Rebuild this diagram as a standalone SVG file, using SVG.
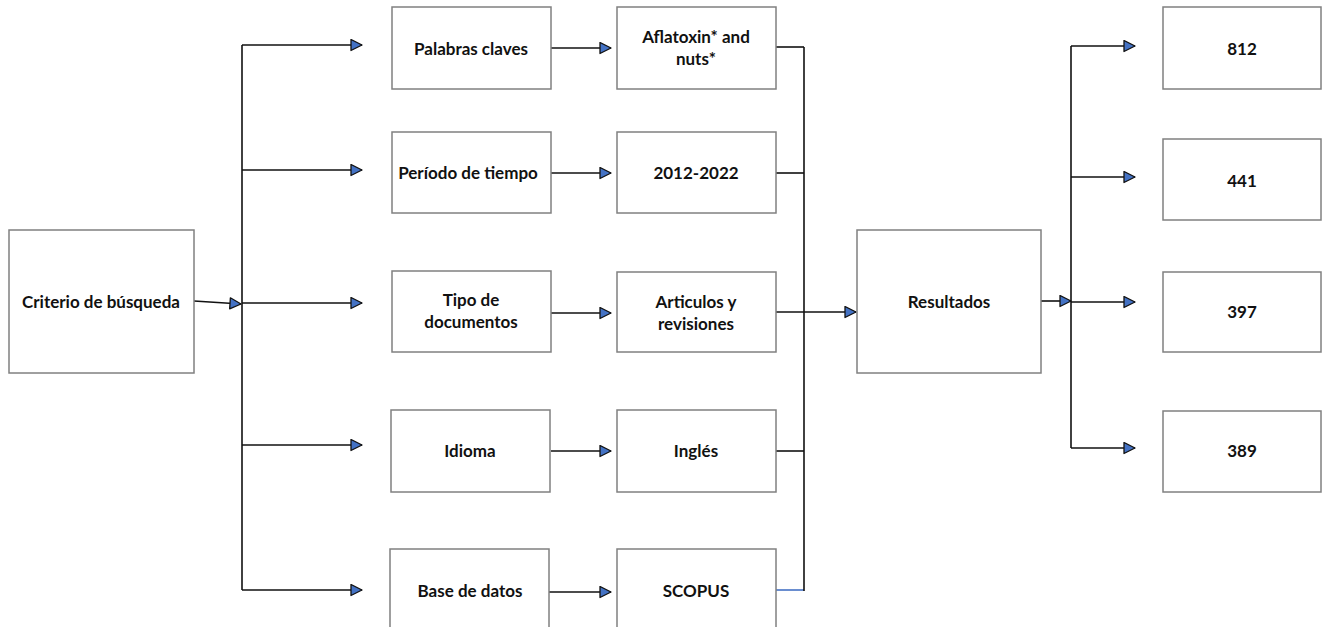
<svg xmlns="http://www.w3.org/2000/svg" width="1325" height="627" viewBox="0 0 1325 627">
<style>
.box{fill:#fff;stroke:#808080;stroke-width:1.5}
.t{font-family:Lato,"Liberation Sans",sans-serif;font-weight:bold;font-size:17px;fill:#111;text-anchor:middle}
.c{fill:none;stroke:#111;stroke-width:1.6}
.b{fill:none;stroke:#4472c4;stroke-width:1.6}
</style>
<defs>
<marker id="ah" markerUnits="userSpaceOnUse" markerWidth="16" markerHeight="14" refX="12" refY="6.5" orient="auto" viewBox="0 0 16 14">
<path d="M1,1 L12,6.5 L1,12 Z" fill="#4472c4" stroke="#111" stroke-width="1.3" stroke-linejoin="round"/>
</marker>
</defs>
<rect width="1325" height="627" fill="#fff"/>
<g id="connectors">
<line class="c" x1="194" y1="301" x2="241" y2="304" marker-end="url(#ah)"/>
<line class="c" x1="242" y1="45" x2="242" y2="590"/>
<line class="c" x1="242" y1="45" x2="362" y2="45" marker-end="url(#ah)"/>
<line class="c" x1="242" y1="170" x2="362" y2="170" marker-end="url(#ah)"/>
<line class="c" x1="242" y1="303" x2="362" y2="303" marker-end="url(#ah)"/>
<line class="c" x1="242" y1="445" x2="362" y2="445" marker-end="url(#ah)"/>
<line class="c" x1="242" y1="590" x2="362" y2="590" marker-end="url(#ah)"/>
<line class="c" x1="551" y1="48" x2="611" y2="48" marker-end="url(#ah)"/>
<line class="c" x1="551" y1="173" x2="611" y2="173" marker-end="url(#ah)"/>
<line class="c" x1="551" y1="313" x2="611" y2="313" marker-end="url(#ah)"/>
<line class="c" x1="551" y1="451" x2="611" y2="451" marker-end="url(#ah)"/>
<line class="c" x1="549" y1="592" x2="611" y2="592" marker-end="url(#ah)"/>
<line class="c" x1="776" y1="47" x2="804" y2="47"/>
<line class="c" x1="776" y1="173" x2="804" y2="173"/>
<line class="c" x1="776" y1="451" x2="804" y2="451"/>
<line class="b" x1="776" y1="590" x2="804" y2="590"/>
<line class="c" x1="804" y1="47" x2="804" y2="591"/>
<line class="c" x1="776" y1="312" x2="856" y2="312" marker-end="url(#ah)"/>
<line class="c" x1="1041" y1="301" x2="1071" y2="301" marker-end="url(#ah)"/>
<line class="c" x1="1071" y1="46" x2="1071" y2="448"/>
<line class="c" x1="1071" y1="46" x2="1135" y2="46" marker-end="url(#ah)"/>
<line class="c" x1="1071" y1="177" x2="1135" y2="177" marker-end="url(#ah)"/>
<line class="c" x1="1071" y1="302" x2="1135" y2="302" marker-end="url(#ah)"/>
<line class="c" x1="1071" y1="448" x2="1135" y2="448" marker-end="url(#ah)"/>
</g>
<g id="criterio"><rect class="box" x="9" y="230" width="185" height="143"/><text class="t" x="101" y="308">Criterio de búsqueda</text></g>
<g id="palabras"><rect class="box" x="392" y="7" width="159" height="82"/><text class="t" x="471" y="55">Palabras claves</text></g>
<g id="periodo"><rect class="box" x="392" y="132" width="159" height="81"/><text class="t" x="468" y="179">Período de tiempo</text></g>
<g id="tipo"><rect class="box" x="392" y="271" width="159" height="81"/><text class="t" x="471" y="306">Tipo de</text><text class="t" x="471" y="328">documentos</text></g>
<g id="idioma"><rect class="box" x="391" y="410" width="159" height="82"/><text class="t" x="470" y="457">Idioma</text></g>
<g id="base"><rect class="box" x="390" y="549" width="159" height="90"/><text class="t" x="470" y="597">Base de datos</text></g>
<g id="aflatoxin"><rect class="box" x="617" y="7" width="159" height="82"/><text class="t" x="696" y="43">Aflatoxin* and</text><text class="t" x="696" y="65">nuts*</text></g>
<g id="anios"><rect class="box" x="617" y="132" width="159" height="81"/><text class="t" x="696" y="179">2012-2022</text></g>
<g id="articulos"><rect class="box" x="617" y="272" width="159" height="80"/><text class="t" x="696" y="308">Articulos y</text><text class="t" x="696" y="330">revisiones</text></g>
<g id="ingles"><rect class="box" x="617" y="410" width="159" height="82"/><text class="t" x="696" y="457">Inglés</text></g>
<g id="scopus"><rect class="box" x="617" y="549" width="159" height="90"/><text class="t" x="696" y="597">SCOPUS</text></g>
<g id="resultados"><rect class="box" x="857" y="230" width="184" height="143"/><text class="t" x="949" y="308">Resultados</text></g>
<g id="r812"><rect class="box" x="1163" y="7" width="158" height="82"/><text class="t" x="1242" y="55">812</text></g>
<g id="r441"><rect class="box" x="1163" y="139" width="158" height="81"/><text class="t" x="1242" y="187">441</text></g>
<g id="r397"><rect class="box" x="1163" y="272" width="158" height="80"/><text class="t" x="1242" y="318">397</text></g>
<g id="r389"><rect class="box" x="1163" y="411" width="158" height="81"/><text class="t" x="1242" y="457">389</text></g>
</svg>
